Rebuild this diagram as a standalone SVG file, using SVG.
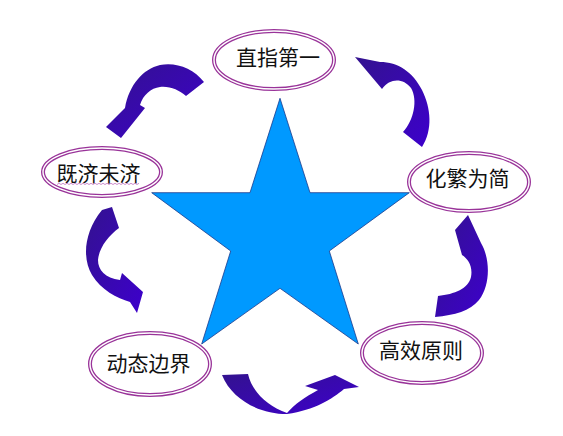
<svg xmlns="http://www.w3.org/2000/svg" width="563" height="436" viewBox="0 0 563 436">
<style>
.ell-o{fill:#ffffff;stroke:#993399;stroke-width:4}
.ell-i{fill:none;stroke:#ffffff;stroke-width:1.4}
.lbl{font-family:"Noto Sans CJK SC","Noto Sans",sans-serif;font-size:21px;fill:#111111;text-anchor:middle}
.arr{fill:url(#ag)}
</style>
<defs>
<linearGradient id="ag" x1="0" y1="0" x2="1" y2="1">
<stop offset="0" stop-color="#33128f"/>
<stop offset="1" stop-color="#3d00cc"/>
</linearGradient>
</defs>
<rect width="563" height="436" fill="#ffffff"/>
<g id="connectors">
<path class="arr" d="M204,82 C193,68 176,62 160,65 C143,69 129,85 125,108 L106,127 L121,138 L145,108 L140,105 C143,95 151,88 160,87 C170,86 179,90 186,96 Z"/>
<path class="arr" d="M102,210 L112,207 L119,228 C108,236 99,248 98,260 C98,270 105,278 120,280 L122,273 L143,292 L137,313 L130,302 C117,298 101,290 92,275 C82,258 84,232 102,210 Z"/>
<path class="arr" d="M222,375 L248,374 C252,392 268,406 287,413 C295,404 305,397 318,390 L305,386 L335,375 L359,387 L344,389 C332,399 315,410 287,414 C260,414 232,400 222,375 Z"/>
<path class="arr" d="M435,317 L438,296 C455,294 468,289 471,277 C473,266 468,259 462,255 L455,230 L468,215 L481,243 C490,258 491,284 479,300 C470,311 455,315 435,317 Z"/>
<path class="arr" d="M422,147 L403,132 C414,120 418,100 411,88 C403,78 390,78 382,89 L355,57 L380,62 C398,62 413,72 422,90 C431,108 433,130 422,147 Z"/>
</g>
<g id="node-zhizhi">
<ellipse class="ell-o" cx="274" cy="60" rx="60" ry="29"/>
<ellipse class="ell-i" cx="274" cy="60" rx="60" ry="29"/>
<text class="lbl" x="278" y="64.5">直指第一</text>
</g>
<g id="node-jiji">
<ellipse class="ell-o" cx="102" cy="172" rx="59" ry="24"/>
<ellipse class="ell-i" cx="102" cy="172" rx="59" ry="24"/>
<text class="lbl" x="98.5" y="181">既济未济</text>
<path d="M57,184.5 l2,-1.2 l2,1.2 l2,-1.2 l2,1.2 l2,-1.2 l2,1.2 l2,-1.2 l2,1.2 l2,-1.2 l2,1.2 l2,-1.2 l2,1.2 l2,-1.2 l2,1.2 l2,-1.2 l2,1.2 l2,-1.2 l2,1.2 l2,-1.2 l2,1.2 l2,-1.2 l2,1.2 l2,-1.2 l2,1.2 l2,-1.2 l2,1.2 l2,-1.2 l2,1.2 l2,-1.2 l2,1.2 l2,-1.2 l2,1.2 l2,-1.2 l2,1.2 l2,-1.2 l2,1.2 l2,-1.2 l2,1.2 l2,-1.2 l2,1.2 l2,-1.2" fill="none" stroke="#c070c0" stroke-width="0.8"/>
</g>
<g id="node-huafan">
<ellipse class="ell-o" cx="469" cy="182" rx="60" ry="29"/>
<ellipse class="ell-i" cx="469" cy="182" rx="60" ry="29"/>
<text class="lbl" x="467.5" y="186">化繁为简</text>
</g>
<g id="node-dongtai">
<ellipse class="ell-o" cx="150" cy="364" rx="60" ry="31"/>
<ellipse class="ell-i" cx="150" cy="364" rx="60" ry="31"/>
<text class="lbl" x="148.5" y="371">动态边界</text>
</g>
<g id="node-gaoxiao">
<ellipse class="ell-o" cx="422" cy="353" rx="60" ry="30"/>
<ellipse class="ell-i" cx="422" cy="353" rx="60" ry="30"/>
<text class="lbl" x="421" y="358">高效原则</text>
</g>
<g id="node-star">
<polygon points="280,98.3 310,192.7 409.3,192.7 329.3,251 358.3,344 280,288.3 201.7,344 230.7,251 151.7,192.7 250,192.7" fill="#0099ff" stroke="#1a3a8c" stroke-width="0.8" stroke-linejoin="miter"/>
</g>
</svg>
